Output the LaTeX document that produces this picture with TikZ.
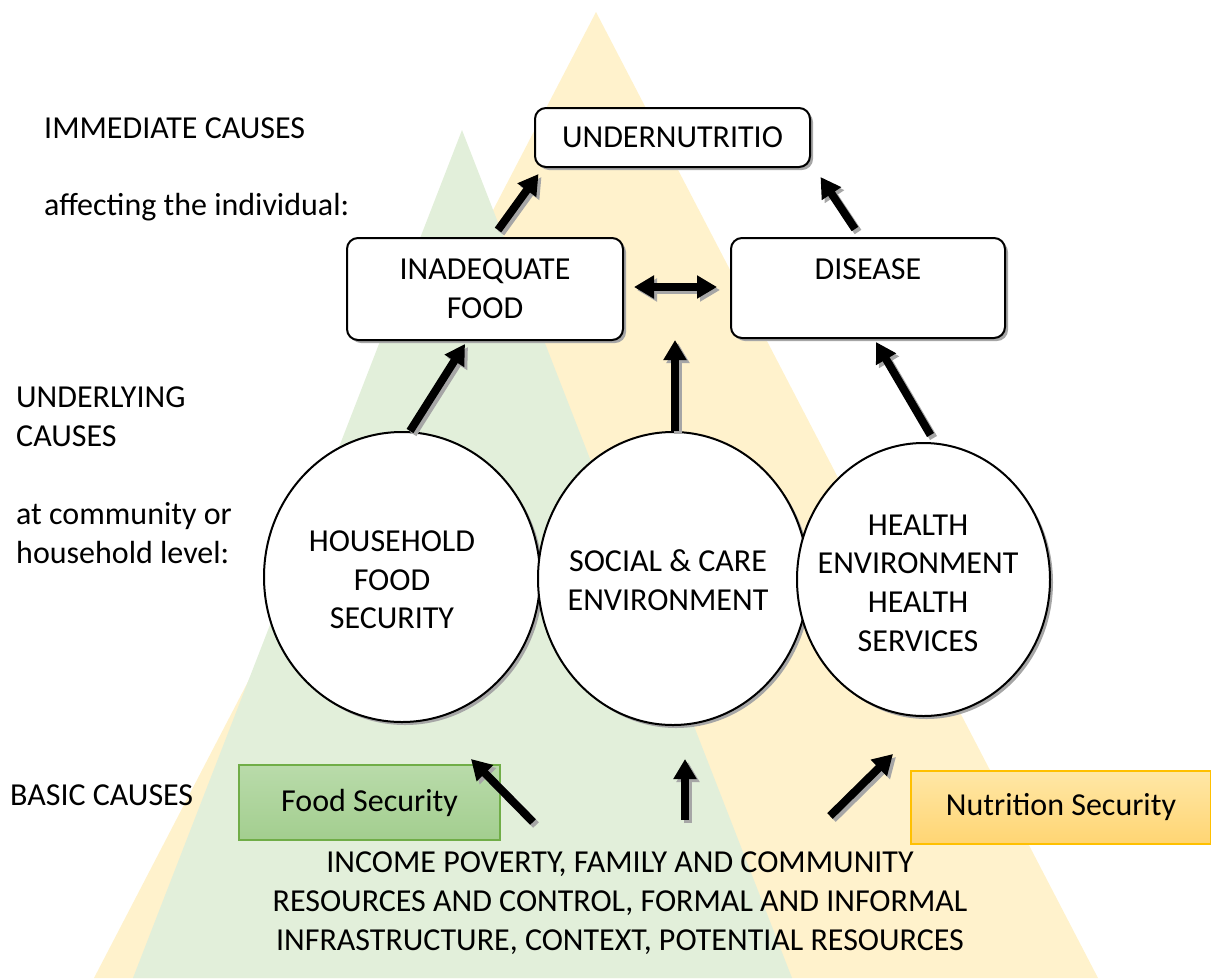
\documentclass[tikz,border=0pt]{standalone}
\usepackage{fontspec}
\setmainfont{Carlito}
\usetikzlibrary{arrows.meta,shapes.geometric,shadows}
\definecolor{tyellow}{HTML}{FFF2CC}
\definecolor{tgreen}{HTML}{E2EFDA}
\definecolor{fsborder}{HTML}{70AD47}
\definecolor{fstop}{HTML}{B9DBAA}
\definecolor{fsbot}{HTML}{A3CE8F}
\definecolor{nsborder}{HTML}{FFC000}
\definecolor{nstop}{HTML}{FFE7A6}
\definecolor{nsbot}{HTML}{FFD573}
\newcommand\myarrow[3][-{Triangle[width=22pt,length=20pt]}]{%
  \draw[line width=8pt,#1,black!35,transform canvas={shift={(3pt,-3pt)}}] #2 -- #3;
  \draw[line width=8pt,#1,black] #2 -- #3;}
\begin{document}
\begin{tikzpicture}[x=1pt,y=-1pt,
  font=\fontsize{32}{38.7}\selectfont,
  shadowed/.style={drop shadow={shadow xshift=3pt,shadow yshift=-3pt,fill=black!35,opacity=1}},
  box/.style={draw,line width=2pt,rounded corners=11pt,fill=white,inner sep=0pt,align=center,shadowed},
  ell/.style={draw,ellipse,line width=2pt,fill=white,inner sep=0pt,shadowed},
  txt/.style={inner sep=0pt,align=center},
  side/.style={inner sep=0pt,anchor=base west},
]
\useasboundingbox (0,0) rectangle (1211,978);
\begin{scope}
\clip (0,0) rectangle (1211,978);
% background triangles
\fill[tyellow] (596,12) -- (1098,978) -- (94,978) -- cycle;
\fill[tgreen] (462,130) -- (792,978) -- (133,978) -- cycle;
\end{scope}

% left side labels
\node[side] (l1) at (44,138) {IMMEDIATE CAUSES};
\node[side] (l2) at (44,215) {affecting the individual:};
\node[side] (l3) at (16,407) {UNDERLYING};
\node[side] (l4) at (16,446) {CAUSES};
\node[side] (l5) at (16,524) {at community or};
\node[side] (l6) at (16,563) {household level:};
\node[side] (l7) at (10,805) {BASIC CAUSES};

% boxes
\node[box,minimum width=275pt,minimum height=59pt] (under) at (672.5,137.5) {UNDERNUTRITIO};
\node[box,minimum width=276pt,minimum height=102pt] (food) at (485,289) {INADEQUATE\\FOOD};
\node[box,minimum width=274pt,minimum height=100pt] (disease) at (868,288) {DISEASE\\\mbox{}};

% ellipses
\node[ell,minimum width=276pt,minimum height=290pt] (hfs) at (402,577) {};
\node[ell,minimum width=270pt,minimum height=293pt] (sce) at (673,578.5) {};
\node[ell,minimum width=253pt,minimum height=273pt] (hes) at (923.5,579.5) {};
\node[txt] (hfst) at (392,580) {HOUSEHOLD\\FOOD\\SECURITY};
\node[txt] (scet) at (668,580) {SOCIAL \& CARE\\ENVIRONMENT};
\node[txt] (hest) at (918,583) {HEALTH\\ENVIRONMENT\\HEALTH\\SERVICES};

% security boxes
\node[draw=fsborder,line width=1.5pt,top color=fstop,bottom color=fsbot,minimum width=261pt,minimum height=75pt,inner sep=0pt] (fs) at (369.5,802.5) {Food Security};
\node[draw=nsborder,line width=1.5pt,top color=nstop,bottom color=nsbot,minimum width=300pt,minimum height=73pt,inner sep=0pt] (ns) at (1061,807.5) {Nutrition Security};

% basic causes text
\node[txt] (basic) at (620,903) {INCOME POVERTY, FAMILY AND COMMUNITY\\RESOURCES AND CONTROL, FORMAL AND INFORMAL\\INFRASTRUCTURE, CONTEXT, POTENTIAL RESOURCES};

% free ends
\coordinate (midtip) at (675,340);
\coordinate (b1) at (533,822);
\coordinate (t1) at (471,759);
\coordinate (b2) at (685,820);
\coordinate (t2) at (685,759);
\coordinate (b3) at (830,816);
\coordinate (t3) at (893,754);

% arrows
\myarrow{([xshift=13pt,yshift=7pt]food.north)}{([xshift=-134pt,yshift=-6pt]under.south)}
\myarrow{([xshift=-13pt,yshift=8pt]disease.north)}{([xshift=148pt,yshift=-9pt]under.south)}
\myarrow[{Triangle[width=22pt,length=20pt]}-{Triangle[width=22pt,length=20pt]}]{([xshift=10pt,yshift=2pt]food.east)}{([xshift=-13pt,yshift=1pt]disease.west)}
\myarrow{([xshift=8pt]hfs.north)}{([xshift=-20pt,yshift=-3pt]food.south)}
\myarrow{([xshift=2pt]sce.north)}{(midtip)}
\myarrow{([xshift=7pt,yshift=7pt]hes.north)}{([xshift=8pt,yshift=-3pt]disease.south)}
\myarrow{(b1)}{(t1)}
\myarrow{(b2)}{(t2)}
\myarrow{(b3)}{(t3)}
\end{tikzpicture}
\end{document}
